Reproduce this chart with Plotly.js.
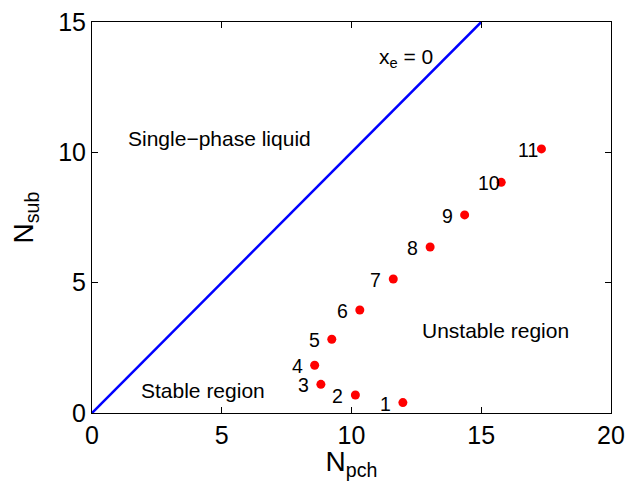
<!DOCTYPE html>
<html>
<head>
<meta charset="utf-8">
<script src="https://cdn.plot.ly/plotly-3.0.1.min.js"></script>
<style>html,body{margin:0;padding:0;background:#fff;}#chart{width:626px;height:481px;}</style>
</head>
<body>
<div id="chart"></div>
<script>
// Boundary line x_e = 0
var lineX = [0, 15];
var lineY = [0, 15];

// Stability boundary points
var pointLabels = ["1","2","3","4","5","6","7","8","9","10","11"];
var nPch = [11.98, 10.15, 8.82, 8.58, 9.24, 10.32, 11.61, 13.03, 14.36, 15.77, 17.32];
var nSub = [0.40, 0.69, 1.10, 1.83, 2.83, 3.95, 5.14, 6.37, 7.60, 8.85, 10.13];

var xTicks = [0, 5, 10, 15, 20];
var yTicks = [0, 5, 10, 15];

var FONT = '"Liberation Sans", Arial, Helvetica, sans-serif';

var traces = [
  {x: lineX, y: lineY, mode: 'lines', type: 'scatter',
   line: {color: '#0000ff', width: 2.5}, hoverinfo: 'none', showlegend: false},
  {x: nPch, y: nSub, mode: 'markers', type: 'scatter',
   marker: {color: '#ff0000', size: 9}, hoverinfo: 'none', showlegend: false}
];

var annotations = pointLabels.map(function (t, i) {
  return {x: nPch[i], y: nSub[i], xref: 'x', yref: 'y', text: t, showarrow: false,
          xanchor: 'left', yanchor: 'middle', xshift: -25, yshift: -1,
          font: {family: FONT, size: 19.5, color: '#000'}};
});
annotations.push(
  {x: 4.91, y: 10.55, xref: 'x', yref: 'y', text: 'Single\u2212phase liquid', showarrow: false,
   xanchor: 'center', yanchor: 'middle', font: {family: FONT, size: 21, color: '#000'}},
  {x: 15.54, y: 3.18, xref: 'x', yref: 'y', text: 'Unstable region', showarrow: false,
   xanchor: 'center', yanchor: 'middle', font: {family: FONT, size: 21, color: '#000'}},
  {x: 4.27, y: 0.88, xref: 'x', yref: 'y', text: 'Stable region', showarrow: false,
   xanchor: 'center', yanchor: 'middle', font: {family: FONT, size: 21, color: '#000'}},
  {x: 10.98, y: 13.6, xref: 'x', yref: 'y', text: 'x<sub>e</sub> = 0', showarrow: false,
   xanchor: 'left', yanchor: 'middle', font: {family: FONT, size: 21, color: '#000'}}
);

var axisCommon = {
  showgrid: false, zeroline: false, showline: true, mirror: 'ticks',
  linecolor: '#000', linewidth: 1, ticks: 'inside', ticklen: 6, tickwidth: 1,
  tickcolor: '#000', tickfont: {family: FONT, size: 25, color: '#000'}
};

var layout = {
  width: 626, height: 481,
  margin: {l: 92, r: 15, t: 22, b: 68},
  paper_bgcolor: '#fff', plot_bgcolor: '#fff',
  font: {family: FONT, color: '#000'},
  showlegend: false,
  xaxis: Object.assign({}, axisCommon, {
    range: [0, 20], tickvals: xTicks, ticktext: xTicks.map(String),
    title: {text: 'N<sub>pch</sub>', font: {family: FONT, size: 28, color: '#000'}, standoff: 0}
  }),
  yaxis: Object.assign({}, axisCommon, {
    range: [0, 15], tickvals: yTicks, ticktext: yTicks.map(String),
    title: {text: 'N<sub>sub</sub>', font: {family: FONT, size: 28, color: '#000'}, standoff: 16}
  }),
  annotations: annotations
};

Plotly.newPlot('chart', traces, layout, {staticPlot: true, displayModeBar: false});
</script>
</body>
</html>
